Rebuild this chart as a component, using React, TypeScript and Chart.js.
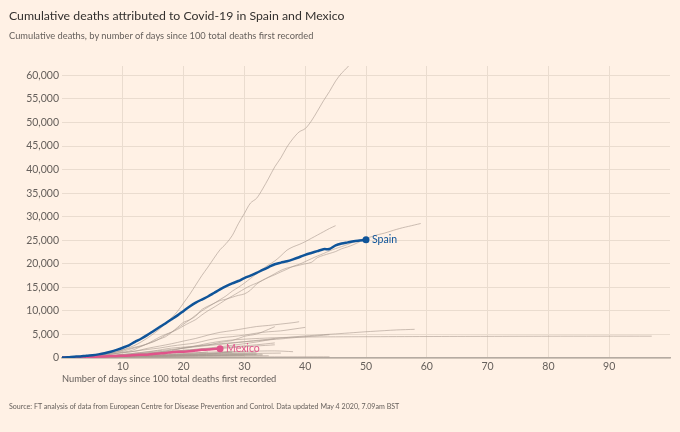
import React, { useEffect, useRef } from "react";
import { Chart, registerables } from "chart.js";

Chart.register(...registerables);

const TITLE = "Cumulative deaths attributed to Covid-19 in Spain and Mexico";
const SUBTITLE = "Cumulative deaths, by number of days since 100 total deaths first recorded";
const SOURCE =
  "Source: FT analysis of data from European Centre for Disease Prevention and Control. Data updated May 4 2020, 7.09am BST";
const X_TITLE = "Number of days since 100 total deaths first recorded";

const xTicks = [10, 20, 30, 40, 50, 60, 70, 80, 90];
const yTicks = [0, 5000, 10000, 15000, 20000, 25000, 30000, 35000, 40000, 45000, 50000, 55000, 60000];

// Highlighted series: value per day since 100 deaths
const spain = [
  120, 136, 288, 309, 491, 598, 767, 1002, 1326, 1720, 2182, 2696, 3434, 4089, 4858, 5690, 6528, 7340, 8189,
  9053, 10003, 10935, 11744, 12418, 13055, 13798, 14555, 15238, 15843, 16353, 16972, 17489, 18056, 18708,
  19315, 19900, 20250, 20550, 20950, 21400, 21900, 22300, 22700, 23100, 23150, 23900, 24300, 24550, 24800,
  24950, 25100,
];
const mexico = [
  125, 141, 174, 194, 233, 273, 296, 332, 406, 449, 486, 546, 650, 686, 712, 857, 970, 1069, 1221, 1305,
  1351, 1434, 1569, 1732, 1800, 1900, 1980,
];

// Comparison countries: [day, deaths]
const usa = [
  [0, 108], [1, 150], [2, 205], [3, 260], [4, 340], [5, 470], [6, 590], [7, 780], [8, 1030], [9, 1300],
  [10, 1700], [11, 2200], [12, 2700], [13, 3400], [14, 4200], [15, 5100], [16, 6100], [17, 7300], [18, 8500],
  [19, 9900], [20, 11700], [21, 13500], [22, 15500], [23, 17500], [24, 19300], [25, 21200], [26, 23000],
  [27, 24300], [28, 26000], [29, 28500], [30, 30700], [31, 32900], [32, 33900], [33, 35900], [34, 38200],
  [35, 40600], [36, 42500], [37, 44800], [38, 46600], [39, 48000], [40, 48700], [41, 50300], [42, 52400],
  [43, 54600], [44, 56600], [45, 58800], [46, 60500], [47, 61800], [48, 63800], [49, 65800], [50, 67000],
];
const italy = [
  [0, 107], [1, 148], [2, 197], [3, 233], [4, 366], [5, 463], [6, 631], [7, 827], [8, 1016], [9, 1266],
  [10, 1441], [11, 1809], [12, 2158], [13, 2503], [14, 2978], [15, 3405], [16, 4032], [17, 4825], [18, 5476],
  [19, 6077], [20, 6820], [21, 7503], [22, 8165], [23, 9134], [24, 10023], [25, 10779], [26, 11591],
  [27, 12428], [28, 13155], [29, 13915], [30, 14681], [31, 15362], [32, 15887], [33, 16523], [34, 17127],
  [35, 17669], [36, 18279], [37, 18849], [38, 19468], [39, 19899], [40, 20465], [41, 21067], [42, 21645],
  [43, 22170], [44, 22745], [45, 23227], [46, 23660], [47, 24114], [48, 24648], [49, 25085], [50, 25400],
  [51, 25800], [52, 26200], [53, 26500], [54, 26900], [55, 27300], [56, 27650], [57, 27950], [58, 28250],
  [59, 28560],
];
const uk = [
  [0, 110], [1, 150], [2, 200], [3, 250], [4, 310], [5, 380], [6, 460], [7, 580], [8, 760], [9, 1000],
  [10, 1250], [11, 1450], [12, 1850], [13, 2450], [14, 3000], [15, 3700], [16, 4400], [17, 5000], [18, 5500],
  [19, 6300], [20, 7200], [21, 8100], [22, 9100], [23, 10000], [24, 10800], [25, 11600], [26, 12400],
  [27, 13200], [28, 14200], [29, 15000], [30, 15900], [31, 16900], [32, 17900], [33, 18900], [34, 19800],
  [35, 20600], [36, 21700], [37, 22900], [38, 23600], [39, 24100], [40, 24700], [41, 25400], [42, 26100],
  [43, 26800], [44, 27500], [45, 28100],
];
const france = [
  [0, 120], [1, 150], [2, 180], [3, 240], [4, 370], [5, 450], [6, 560], [7, 860], [8, 1100], [9, 1330],
  [10, 1700], [11, 2000], [12, 2300], [13, 2600], [14, 3000], [15, 3500], [16, 4000], [17, 4500], [18, 5400],
  [19, 6500], [20, 7600], [21, 8100], [22, 8900], [23, 10300], [24, 11000], [25, 11600], [26, 12200],
  [27, 12500], [28, 12900], [29, 13300], [30, 13600], [31, 14400], [32, 15700], [33, 16500], [34, 17200],
  [35, 17900], [36, 18600], [37, 19100], [38, 19400], [39, 19700], [40, 20000], [41, 20300], [42, 21300],
  [43, 21800], [44, 22200], [45, 22600], [46, 23200], [47, 23600], [48, 24100], [49, 24700],
];
const belgium = [
  [0, 122], [2, 220], [4, 353], [6, 513], [8, 828], [10, 1143], [12, 1447], [14, 2035], [16, 2523],
  [18, 3019], [20, 3600], [22, 4157], [24, 4857], [26, 5453], [28, 5828], [30, 6262], [32, 6679],
  [34, 6917], [36, 7207], [38, 7501], [39, 7700],
];
const germany = [
  [0, 123], [2, 253], [4, 389], [6, 596], [8, 867], [10, 1107], [12, 1444], [14, 1810], [16, 2107],
  [18, 2544], [20, 2871], [22, 3194], [24, 3804], [26, 4294], [28, 4538], [30, 4862], [32, 5279],
  [34, 5575], [36, 5760], [38, 6126], [40, 6500],
];
const brazil = [
  [0, 114], [2, 159], [4, 240], [6, 299], [8, 432], [10, 667], [12, 819], [14, 1124], [16, 1328],
  [18, 1532], [20, 2171], [22, 2484], [24, 2741], [26, 3313], [28, 3704], [30, 4603], [32, 5083],
  [34, 6100], [35, 6650],
];
const iran = [
  [0, 107], [3, 194], [5, 291], [8, 514], [10, 724], [13, 1135], [15, 1433], [18, 1812], [20, 2077],
  [23, 2517], [25, 2757], [28, 3160], [30, 3452], [33, 3872], [35, 4110], [38, 4474], [40, 4683],
  [43, 4958], [45, 5118], [48, 5391], [50, 5574], [53, 5806], [55, 5957], [58, 6090],
];
const china = [
  [0, 106], [3, 213], [6, 361], [9, 563], [12, 811], [15, 1113], [18, 1700], [21, 2300], [24, 3100],
  [27, 3700], [30, 4000], [35, 4300], [40, 4450], [50, 4520], [60, 4560], [70, 4590], [80, 4620], [97, 4637],
];
const netherlands = [
  [0, 106], [3, 213], [6, 356], [9, 639], [12, 1039], [15, 1487], [18, 2101], [21, 2403], [24, 2823],
  [27, 3134], [30, 3459], [33, 3751], [36, 4054], [39, 4409], [42, 4711], [44, 4950],
];
const canada = [
  [0, 100], [4, 200], [8, 400], [12, 720], [16, 1100], [20, 1600], [24, 2100], [28, 2700], [32, 3400], [35, 4100],
];
const turkey = [
  [0, 108], [4, 214], [8, 425], [12, 812], [16, 1198], [20, 1643], [24, 2017], [28, 2376], [32, 2805], [35, 3200],
];
const sweden = [
  [0, 105], [4, 180], [8, 400], [12, 700], [16, 1000], [20, 1400], [24, 1800], [28, 2200], [32, 2550], [35, 2800],
];
const switzerland = [
  [0, 120], [5, 257], [10, 484], [15, 756], [20, 1017], [25, 1268], [30, 1411], [35, 1509], [38, 1340],
];
const southKorea = [
  [0, 102], [5, 131], [10, 158], [15, 183], [20, 204], [25, 214], [30, 230], [35, 240], [40, 248], [44, 250],
];
const ireland = [[0, 116], [5, 235], [10, 365], [15, 610], [20, 794], [25, 1063], [30, 1303]];
const india = [[0, 109], [5, 215], [10, 353], [15, 488], [20, 640], [25, 826], [30, 1075], [32, 1220]];
const ecuador = [[0, 120], [5, 220], [10, 330], [15, 470], [20, 580], [25, 900], [28, 1500]];
const peru = [[0, 107], [5, 216], [10, 348], [15, 530], [20, 751], [25, 1000], [28, 1200]];
const russia = [[0, 106], [5, 198], [10, 361], [15, 555], [20, 867], [24, 1280]];
const japan = [[0, 100], [5, 150], [10, 200], [15, 280], [20, 360], [25, 430], [30, 510]];
const portugal = [[0, 100], [5, 187], [10, 345], [15, 504], [20, 714], [25, 854], [30, 948], [36, 1043]];
const austria = [[0, 108], [5, 220], [10, 337], [15, 431], [20, 510], [25, 549], [30, 584], [33, 600]];
const romania = [[0, 115], [5, 197], [10, 291], [15, 411], [20, 530], [25, 650], [30, 770], [33, 800]];
const poland = [[0, 107], [5, 174], [10, 263], [15, 360], [20, 460], [25, 562], [30, 664], [32, 700]];
const indonesia = [[0, 102], [5, 191], [10, 280], [15, 373], [20, 535], [25, 647], [30, 784], [32, 860]];
const denmark = [[0, 104], [5, 203], [10, 273], [15, 336], [20, 370], [25, 422], [30, 460], [34, 480]];

const grayCountries = [
  usa, italy, uk, france, belgium, germany, brazil, iran, china, netherlands, canada, turkey, sweden,
  switzerland, southKorea, ireland, india, ecuador, peru, russia, japan, portugal, austria, romania, poland,
  indonesia, denmark,
];

const FONT = "Lato, 'Noto Sans', sans-serif";
const BG = "#fff1e5";
const SPAIN_COLOR = "#0f5499";
const MEXICO_COLOR = "#e0548a";
const GRAY = "rgba(168, 154, 144, 0.6)";
const GRID = "#eadccf";
const TEXT = "#66605c";

const endLabels = {
  id: "endLabels",
  afterDatasetsDraw(chart: any) {
    const ctx = chart.ctx;
    const items = [
      { i: 0, text: "Spain", color: SPAIN_COLOR },
      { i: 1, text: "Mexico", color: MEXICO_COLOR },
    ];
    ctx.save();
    ctx.font = `10.5px ${FONT}`;
    ctx.textBaseline = "middle";
    ctx.textAlign = "left";
    items.forEach((it) => {
      const meta = chart.getDatasetMeta(it.i);
      const pt = meta.data[meta.data.length - 1];
      ctx.fillStyle = it.color;
      ctx.fillText(it.text, pt.x + 6, pt.y);
    });
    ctx.restore();
  },
};

export default function App() {
  const canvasRef = useRef<HTMLCanvasElement | null>(null);

  useEffect(() => {
    if (!canvasRef.current) return;
    const lastOnly = (n: number, r: number) => (c: any) => (c.dataIndex === n - 1 ? r : 0);
    const datasets: any[] = [
      {
        data: spain.map((v, i) => ({ x: i, y: v })),
        borderColor: SPAIN_COLOR,
        backgroundColor: SPAIN_COLOR,
        borderWidth: 2.5,
        pointRadius: lastOnly(spain.length, 3.5),
        pointBorderWidth: 0,
        tension: 0.3,
      },
      {
        data: mexico.map((v, i) => ({ x: i, y: v })),
        borderColor: MEXICO_COLOR,
        backgroundColor: MEXICO_COLOR,
        borderWidth: 2.5,
        pointRadius: lastOnly(mexico.length, 3.5),
        pointBorderWidth: 0,
        tension: 0.3,
      },
      ...grayCountries.map((c) => ({
        data: c.map(([d, v]) => ({ x: d, y: v })),
        borderColor: GRAY,
        borderWidth: 1,
        pointRadius: 0,
        tension: 0.3,
      })),
    ];

    const chart = new Chart(canvasRef.current, {
      type: "line",
      data: { datasets },
      plugins: [endLabels],
      options: {
        animation: false,
        responsive: false,
        events: [],
        layout: { padding: { left: 0, right: 10, top: 66, bottom: 47 } },
        plugins: { legend: { display: false }, tooltip: { enabled: false } },
        scales: {
          x: {
            type: "linear",
            min: 0,
            max: 100,
            afterBuildTicks: (s: any) => {
              s.ticks = xTicks.map((v) => ({ value: v }));
            },
            afterFit: (s: any) => {
              s.height = 27;
            },
            grid: { color: GRID, lineWidth: 1, drawTicks: false },
            border: { display: true, color: "#b5aba2", width: 1.5 },
            ticks: { padding: 2, color: TEXT, font: { family: FONT, size: 10.5 } },
            title: {
              display: true,
              text: X_TITLE,
              align: "start",
              color: TEXT,
              font: { family: FONT, size: 9.3 },
              padding: { top: 0, bottom: 0 },
            },
          },
          y: {
            min: 0,
            max: 62000,
            afterBuildTicks: (s: any) => {
              s.ticks = yTicks.map((v) => ({ value: v }));
            },
            afterFit: (s: any) => {
              s.width = 62;
            },
            grid: { color: GRID, lineWidth: 1, drawTicks: false },
            border: { display: false },
            ticks: {
              padding: 3,
              color: TEXT,
              font: { family: FONT, size: 10.5 },
              callback: (v: any) => Number(v).toLocaleString("en-US"),
            },
          },
        },
      },
    });
    return () => chart.destroy();
  }, []);

  return (
    <div
      style={{
        position: "fixed",
        left: 0,
        top: 0,
        width: 680,
        height: 432,
        background: BG,
        fontFamily: FONT,
        overflow: "hidden",
      }}
    >
      <canvas ref={canvasRef} width={680} height={432} style={{ position: "absolute", left: 0, top: 0 }} />
      <div
        style={{
          position: "absolute",
          left: 9,
          top: 6,
          fontSize: 12.3,
          lineHeight: "20px",
          color: "#33302e",
          whiteSpace: "nowrap",
        }}
      >
        {TITLE}
      </div>
      <div
        style={{
          position: "absolute",
          left: 9,
          top: 29,
          fontSize: 9.3,
          lineHeight: "14px",
          color: TEXT,
          whiteSpace: "nowrap",
        }}
      >
        {SUBTITLE}
      </div>
      <div
        style={{
          position: "absolute",
          left: 9,
          top: 401,
          fontSize: 7.1,
          lineHeight: "12px",
          color: TEXT,
          whiteSpace: "nowrap",
        }}
      >
        {SOURCE}
      </div>
    </div>
  );
}
